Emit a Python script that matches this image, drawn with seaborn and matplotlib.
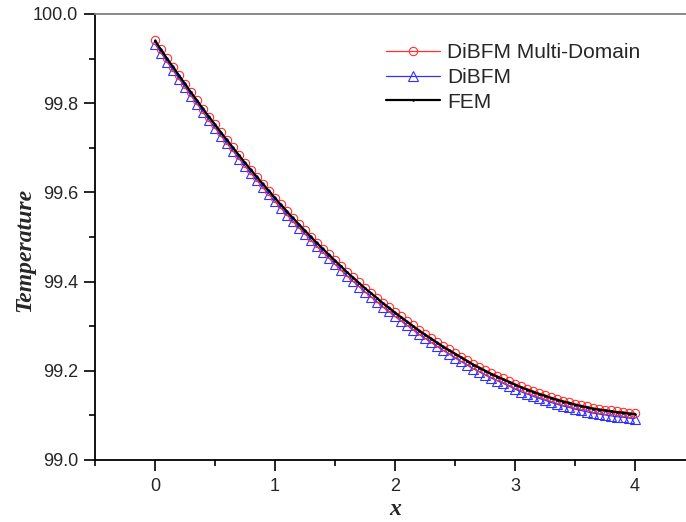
import numpy as np
import matplotlib
matplotlib.use("Agg")
import matplotlib.pyplot as plt
from matplotlib.ticker import MultipleLocator, FormatStrFormatter
import seaborn as sns


x = np.linspace(0, 4, 81)

multi_domain = [
    99.941, 99.921, 99.901, 99.882, 99.863, 99.844, 99.825, 99.807, 99.788, 99.770,
    99.753, 99.735, 99.718, 99.701, 99.684, 99.667, 99.651, 99.635, 99.619, 99.604,
    99.588, 99.573, 99.558, 99.543, 99.529, 99.515, 99.501, 99.487, 99.474, 99.461,
    99.448, 99.435, 99.422, 99.410, 99.398, 99.386, 99.375, 99.364, 99.353, 99.343,
    99.332, 99.322, 99.312, 99.302, 99.292, 99.283, 99.274, 99.265, 99.256, 99.248,
    99.240, 99.232, 99.224, 99.216, 99.209, 99.202, 99.195, 99.189, 99.183, 99.177,
    99.171, 99.165, 99.160, 99.155, 99.150, 99.146, 99.141, 99.137, 99.133, 99.130,
    99.126, 99.123, 99.120, 99.117, 99.115, 99.113, 99.111, 99.109, 99.108, 99.106,
    99.105,
]

dibfm = [
    99.933, 99.913, 99.893, 99.874, 99.855, 99.836, 99.817, 99.799, 99.780, 99.762,
    99.745, 99.727, 99.710, 99.693, 99.676, 99.659, 99.643, 99.627, 99.611, 99.596,
    99.580, 99.565, 99.550, 99.535, 99.521, 99.507, 99.493, 99.479, 99.466, 99.453,
    99.439, 99.426, 99.413, 99.401, 99.389, 99.377, 99.366, 99.355, 99.343, 99.333,
    99.322, 99.312, 99.302, 99.292, 99.282, 99.273, 99.264, 99.255, 99.246, 99.238,
    99.229, 99.221, 99.213, 99.205, 99.198, 99.191, 99.184, 99.178, 99.172, 99.166,
    99.159, 99.153, 99.148, 99.143, 99.138, 99.134, 99.129, 99.125, 99.121, 99.118,
    99.114, 99.111, 99.108, 99.105, 99.103, 99.101, 99.099, 99.097, 99.096, 99.094,
    99.093,
]

fem = [
    99.940, 99.920, 99.900, 99.881, 99.862, 99.843, 99.824, 99.806, 99.787, 99.769,
    99.752, 99.734, 99.717, 99.700, 99.683, 99.666, 99.650, 99.634, 99.618, 99.603,
    99.587, 99.572, 99.557, 99.542, 99.528, 99.514, 99.500, 99.486, 99.473, 99.460,
    99.447, 99.434, 99.421, 99.409, 99.397, 99.385, 99.374, 99.363, 99.351, 99.341,
    99.330, 99.320, 99.310, 99.300, 99.290, 99.281, 99.272, 99.263, 99.254, 99.246,
    99.238, 99.230, 99.222, 99.214, 99.207, 99.200, 99.193, 99.187, 99.181, 99.175,
    99.169, 99.163, 99.158, 99.153, 99.148, 99.144, 99.139, 99.135, 99.131, 99.128,
    99.124, 99.121, 99.118, 99.115, 99.113, 99.111, 99.109, 99.107, 99.106, 99.104,
    99.103,
]


def main():
    sns.set_style("ticks")
    plt.rcParams["font.family"] = ["Liberation Sans", "DejaVu Sans"]

    fig = plt.figure(figsize=(6.86, 5.22), dpi=100)
    ax = fig.add_axes([95 / 686, 1 - 460 / 522, 600 / 686, 446 / 522])

    sns.lineplot(x=x, y=multi_domain, ax=ax, color="#ff3030", lw=0.9,
                 marker="o", markersize=6, markerfacecolor="none",
                 markeredgecolor="#ff3030", markeredgewidth=0.8,
                 label="DiBFM Multi-Domain", zorder=3)
    sns.lineplot(x=x, y=dibfm, ax=ax, color="#3030ff", lw=0.9,
                 marker="^", markersize=7, markerfacecolor="none",
                 markeredgecolor="#3030ff", markeredgewidth=0.8,
                 label="DiBFM", zorder=2)
    sns.lineplot(x=x, y=fem, ax=ax, color="black", lw=1.6,
                 marker=".", markersize=2, markeredgecolor="black",
                 label="FEM", zorder=4)

    ax.set_xlim(-0.5, 4.5)
    ax.set_ylim(99.0, 100.0)
    ax.xaxis.set_major_locator(MultipleLocator(1))
    ax.xaxis.set_minor_locator(MultipleLocator(0.5))
    ax.yaxis.set_major_locator(MultipleLocator(0.2))
    ax.yaxis.set_minor_locator(MultipleLocator(0.1))
    ax.yaxis.set_major_formatter(FormatStrFormatter("%.1f"))

    ax.tick_params(which="major", direction="out", length=8, width=1.2,
                   labelsize=13, color="black")
    ax.tick_params(which="minor", direction="out", length=4, width=1.2,
                   color="black")
    ax.tick_params(axis="x", pad=5)
    ax.tick_params(axis="y", pad=4)

    for side in ["left", "bottom"]:
        ax.spines[side].set_color("black")
        ax.spines[side].set_linewidth(1.3)
    ax.spines["top"].set_color("0.5")
    ax.spines["top"].set_linewidth(1.3)
    ax.spines["right"].set_visible(False)

    label_font = {"family": ["Liberation Serif", "DejaVu Serif"],
                  "weight": "bold", "style": "italic", "size": 17}
    ax.set_xlabel("x", fontdict=label_font, labelpad=3)
    ax.set_ylabel("Temperature", fontdict=label_font)
    ax.yaxis.set_label_coords(-0.1, 0.47)

    ax.legend(loc="upper left", bbox_to_anchor=(386 / 686, 1 - 43 / 522),
              bbox_transform=fig.transFigure, frameon=False, fontsize=15,
              borderpad=0, borderaxespad=0, handlelength=2.6,
              handletextpad=0.35, labelspacing=0.28)

    fig.savefig("out.png", dpi=100)


if __name__ == "__main__":
    main()
